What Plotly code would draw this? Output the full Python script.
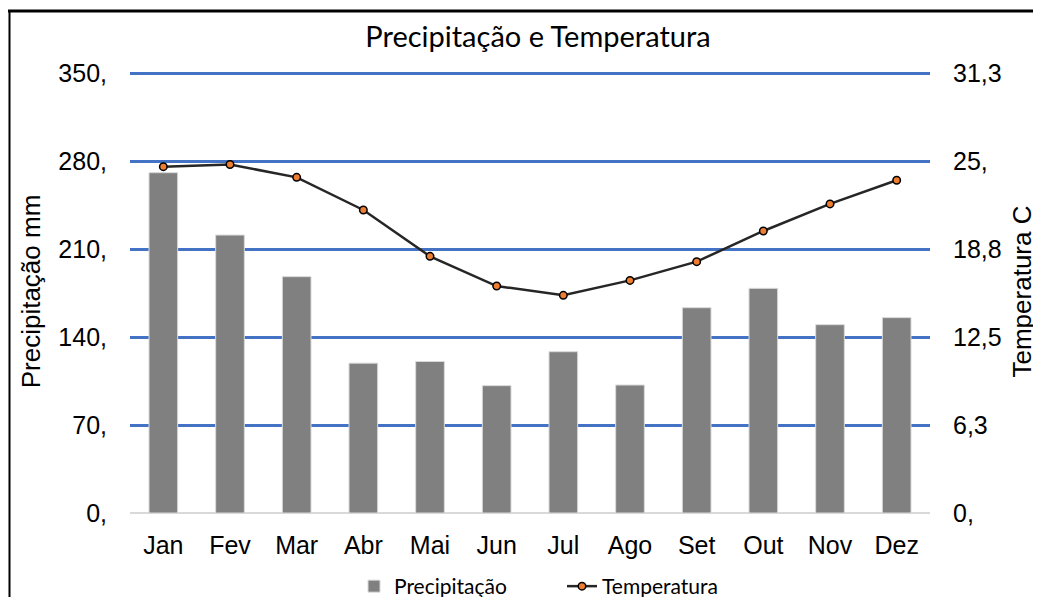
import plotly.graph_objects as go

months = ["Jan", "Fev", "Mar", "Abr", "Mai", "Jun", "Jul", "Ago", "Set", "Out", "Nov", "Dez"]
precipitacao = [270.7, 221.1, 188.0, 119.2, 120.5, 101.3, 128.3, 101.8, 163.3, 178.7, 149.8, 155.4]
temperatura = [24.6, 24.75, 23.84, 21.52, 18.23, 16.12, 15.46, 16.52, 17.85, 20.03, 21.95, 23.63]

left_tickvals = [0, 70, 140, 210, 280, 350]
left_ticktext = ["0,", "70,", "140,", "210,", "280,", "350,"]
right_tickvals = [0, 6.25, 12.5, 18.75, 25, 31.25]
right_ticktext = ["0,", "6,3", "12,5", "18,8", "25,", "31,3"]

# the page body has an 8px margin; work in screen pixels and convert
OFF = 8
SW, SH = 1041, 597
W, H = SW - OFF, SH - OFF
PL, PR, PT, PB = 130, 930, 70, 513          # plot area in screen pixels
L, T = PL - OFF, PT - OFF
pw, ph = PR - PL, PB - PT
R = W - L - pw
B = H - T - ph

def px_x(x):
    return (x - PL) / pw

def px_y(y):
    return (PB - y) / ph

# 350 sits at screen y=73, a few px below the plot top so its gridline is drawn
ytop = 350 * ph / (PB - 73)
y2top = 31.25 * ytop / 350

fig = go.Figure()
fig.add_trace(go.Bar(
    x=months, y=precipitacao, name="Precipitação",
    marker=dict(color="#808080", line=dict(color="#d9d9d9", width=1)),
    width=0.43, yaxis="y",
))
fig.add_trace(go.Scatter(
    x=months, y=temperatura, name="Temperatura", mode="lines+markers",
    line=dict(color="#262626", width=2.5),
    marker=dict(color="#ED7D31", size=7.5, line=dict(color="#000000", width=1.5)),
    yaxis="y2",
))

arial = "Liberation Sans, Arial, sans-serif"
calibri_like = "Lato, Calibri, sans-serif"
fig.update_layout(
    width=W, height=H,
    margin=dict(l=L, r=R, t=T, b=B, autoexpand=False),
    paper_bgcolor="white", plot_bgcolor="white",
    font=dict(family=arial, color="#000000", size=25),
    title=dict(text="Precipitação e Temperatura", x=(538 - OFF) / W, xanchor="center",
               y=1 - (37 - OFF) / H, yanchor="middle",
               font=dict(family=calibri_like, size=29, color="#000000")),
    xaxis=dict(range=[-0.5, 11.5], showgrid=False, showline=False, ticks="",
               ticklabelstandoff=15, tickfont=dict(size=25)),
    yaxis=dict(range=[0, ytop], tickvals=left_tickvals, ticktext=left_ticktext,
               showgrid=True, gridcolor="#4472C4", gridwidth=2.5,
               zeroline=True, zerolinecolor="#d9d9d9", zerolinewidth=2,
               showline=False, ticks="", ticklabelstandoff=22,
               title=dict(text="Precipitação mm", standoff=10, font=dict(size=26))),
    yaxis2=dict(range=[0, y2top], tickvals=right_tickvals, ticktext=right_ticktext,
                overlaying="y", side="right", showgrid=False, zeroline=False,
                showline=False, ticks="", ticklabelstandoff=22,
                title=dict(text="Temperatura C", standoff=12, font=dict(size=26))),
    showlegend=True,
    legend=dict(orientation="h", x=px_x(354), xanchor="left", y=px_y(566), yanchor="top",
                entrywidth=163, entrywidthmode="pixels",
                font=dict(family=calibri_like, size=21, color="#000000"),
                bgcolor="rgba(0,0,0,0)"),
)

# chart frame (top and left edges visible in the reference)
fig.add_shape(type="line", xref="paper", yref="paper",
              x0=px_x(8), x1=px_x(SW + 2), y0=px_y(11), y1=px_y(11),
              line=dict(color="#000000", width=3))
fig.add_shape(type="line", xref="paper", yref="paper",
              x0=px_x(9.5), x1=px_x(9.5), y0=px_y(11), y1=px_y(SH + 2),
              line=dict(color="#000000", width=2))

fig.write_html("out.html")
